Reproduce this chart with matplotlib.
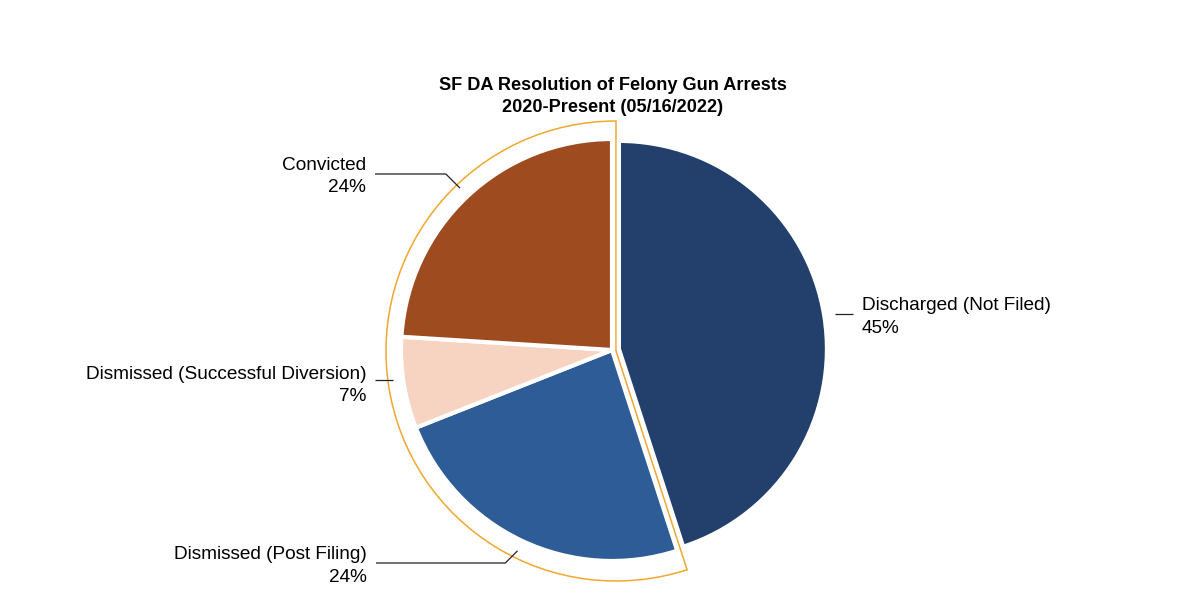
import numpy as np
import matplotlib
matplotlib.use("Agg")
import matplotlib.pyplot as plt
from matplotlib.patches import Wedge

# ---- data ----
categories = ["Discharged (Not Filed)", "Dismissed (Post Filing)",
              "Dismissed (Successful Diversion)", "Convicted"]
shares = [45, 24, 7, 24]
colors = ["#22406B", "#2E5C96", "#F7D4C2", "#9E4B1F"]
title_lines = ["SF DA Resolution of Felony Gun Arrests", "2020-Present (05/16/2022)"]

# ---- layout (pixel space, y measured from top) ----
W, H = 1200, 600
cx, cy_img = 612, 350
R = 211
R_first = 208
explode_px = [7, 0, 0, 0]
outline_color = "#F0A830"
outline_center_img = (616, 351)
outline_R = 230
# text anchor positions: (x, y of leader line, ha, text y offset)
text_pos = {
    "Discharged (Not Filed)": (862, 314, "left", 3),
    "Dismissed (Post Filing)": (367, 563, "right", 3),
    "Dismissed (Successful Diversion)": (366, 380, "right", 5.5),
    "Convicted": (366, 174, "right", 2.5),
}

plt.rcParams['font.family'] = ['Liberation Sans', 'DejaVu Sans']
fig = plt.figure(figsize=(12, 6), dpi=100)
ax = fig.add_axes([0, 0, 1, 1])

cy = H - cy_img

wedges, _ = ax.pie(shares, colors=colors, startangle=90, counterclock=False,
                   center=(cx, cy), radius=R, explode=explode_px,
                   wedgeprops=dict(edgecolor='white', linewidth=3.0, zorder=3),
                   frame=True)
wedges[0].set_radius(R_first)
ax.set_xlim(0, W)
ax.set_ylim(0, H)
ax.set_aspect('equal')
ax.axis('off')

# orange outline around non-discharged group
total = sum(shares)
start_group = 90 - 360 * shares[0] / total
outline = Wedge((outline_center_img[0], H - outline_center_img[1]), outline_R,
                90, start_group + 360,
                facecolor='white', edgecolor=outline_color, linewidth=1.1, zorder=1)
ax.add_patch(outline)

# labels and leader lines
r_anchor = 1.052
for w, name, pct in zip(wedges, categories, shares):
    mid = np.deg2rad((w.theta1 + w.theta2) / 2)
    wcx, wcy = w.center
    rr = w.r
    ax_pt = (wcx + rr * r_anchor * np.cos(mid), wcy + rr * r_anchor * np.sin(mid))
    tx, ty_img, ha, toff = text_pos[name]
    ty = H - ty_img
    dy = abs(ax_pt[1] - ty)
    if dy < 6:
        ax_pt = (ax_pt[0], ty)
        dy = 0
    sgn = 1 if ha == "left" else -1
    elbow = (ax_pt[0] + sgn * dy, ty)
    end = (tx - 9, ty) if ha == "left" else (tx + 9, ty)
    ax.plot([ax_pt[0], elbow[0], end[0]], [ax_pt[1], elbow[1], end[1]],
            color='#222222', lw=0.9, zorder=5, solid_capstyle='butt')
    ax.text(tx, ty - toff, f"{name}\n{pct}%", ha=ha, va='center', fontsize=13.7,
            color='black', linespacing=1.42, multialignment=ha, zorder=6)

ax.text(613, H - 96.5, "\n".join(title_lines), ha='center', va='center',
        fontsize=13.1, fontweight='bold', linespacing=1.35)

fig.savefig("out.png", dpi=100)
